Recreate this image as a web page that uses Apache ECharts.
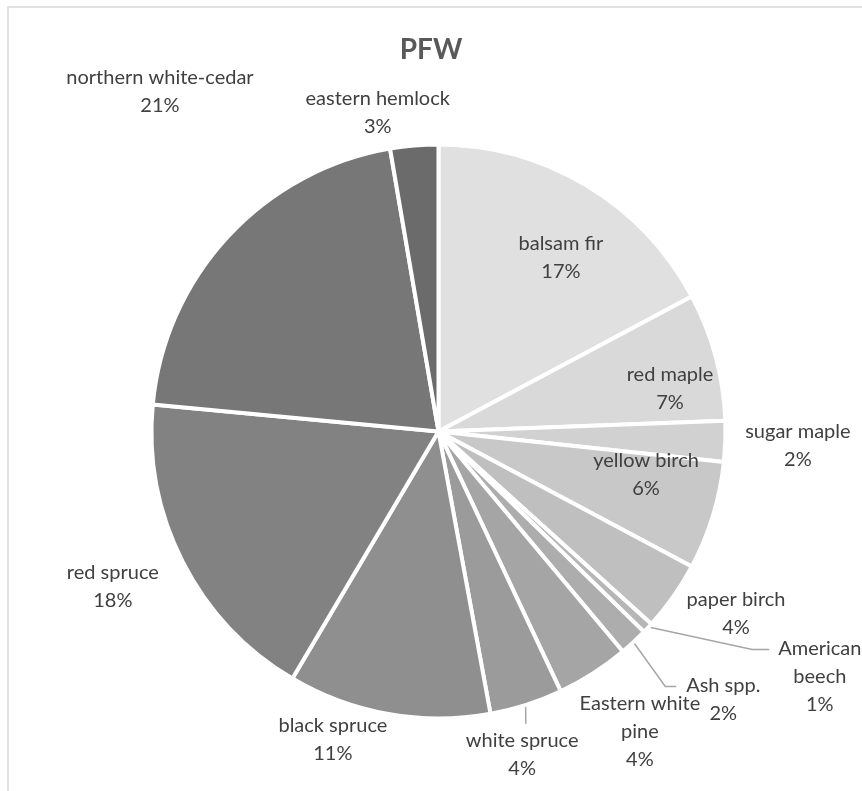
<!DOCTYPE html>
<html>
<head>
<meta charset="utf-8">
<title>PFW</title>
<script src="https://cdn.jsdelivr.net/npm/echarts@6/dist/echarts.min.js"></script>
<style>
  html, body { margin: 0; padding: 0; background: #ffffff; }
  #chart { width: 862px; height: 791px; }
</style>
</head>
<body>
<div id="chart"></div>
<script>
// Species share of PFW volume, clockwise from 12 o'clock
const species = [
  'balsam fir', 'red maple', 'sugar maple', 'yellow birch', 'paper birch',
  'American\nbeech', 'Ash spp.', 'Eastern white\npine', 'white spruce',
  'black spruce', 'red spruce', 'northern white-cedar', 'eastern hemlock'
];
const shares = [17.2, 7.2, 2.3, 6.1, 3.9, 0.6, 1.6, 4.1, 4.1, 11.4, 18.0, 20.8, 2.7];
const greys = [
  '#e0e0e0', '#d9d9d9', '#d1d1d1', '#c8c8c8', '#bfbfbf', '#b6b6b6', '#adadad',
  '#a5a5a5', '#9b9b9b', '#8f8f8f', '#828282', '#777777', '#6b6b6b'
];

// Pie geometry (px)
const CX = 438.5, CY = 431.5, R = 285;

// Label centres as [bearing in degrees clockwise from top, distance in radii]
const labelPolar = [
  [35.2, 0.745], [79.6, 0.826], [92.3, 1.262], [101.8, 0.744], [121.4, 1.223],
  [122.7, 1.59], [133.3, 1.373], [146.1, 1.267], [165.5, 1.172],
  [198.9, 1.144], [244.5, 1.266], [320.7, 1.543], [349.2, 1.138]
];
// Leader lines: elbow offset from the slice edge, then a horizontal run
const leaders = {
  5: { elbow: [106, 23], run: 17 },
  6: { elbow: [33, 46], run: 11 },
  8: { elbow: [0, 21], run: 0 }
};

const total = shares.reduce((a, b) => a + b, 0);
const midBearing = [];
let acc = 0;
shares.forEach(v => {
  midBearing.push((acc + v / 2) / total * 360);
  acc += v;
});

function polar(deg, dist) {
  const a = deg * Math.PI / 180;
  return [CX + dist * Math.sin(a), CY - dist * Math.cos(a)];
}

const chart = echarts.init(document.getElementById('chart'), null, { renderer: 'canvas' });

const option = {
  backgroundColor: '#ffffff',
  animation: false,
  title: {
    text: 'PFW',
    left: 'center',
    top: 31,
    textStyle: {
      fontFamily: 'Lato',
      fontWeight: 'bold',
      fontSize: 28,
      color: '#595959'
    }
  },
  graphic: [{
    type: 'rect',
    shape: { x: 8, y: 7, width: 1000, height: 1000 },
    style: { fill: 'none', stroke: '#d9d9d9', lineWidth: 1.5 },
    silent: true
  }],
  series: [{
    type: 'pie',
    center: [CX, CY],
    radius: R + 2,
    startAngle: 90,
    clockwise: true,
    avoidLabelOverlap: false,
    itemStyle: { borderColor: '#ffffff', borderWidth: 4 },
    label: {
      show: true,
      position: 'outside',
      fontFamily: 'Lato',
      fontSize: 20,
      lineHeight: 28,
      color: '#404040',
      formatter: p => p.name + '\n' + Math.round(p.value / total * 100) + '%'
    },
    labelLine: {
      show: false,
      lineStyle: { color: '#a6a6a6', width: 1.5 }
    },
    labelLayout: params => {
      const i = params.dataIndex;
      const [deg, k] = labelPolar[i];
      const [x, y] = polar(deg, k * R);
      const out = { x: x, y: y, align: 'center', verticalAlign: 'middle' };
      const ld = leaders[i];
      if (ld) {
        const start = polar(midBearing[i], R);
        const elbow = [start[0] + ld.elbow[0], start[1] + ld.elbow[1]];
        const end = [elbow[0] + ld.run, elbow[1]];
        out.labelLinePoints = [start, elbow, end];
      }
      return out;
    },
    data: species.map((name, i) => ({
      name: name,
      value: shares[i],
      itemStyle: { color: greys[i] },
      labelLine: { show: i in leaders }
    }))
  }]
};

chart.setOption(option);
</script>
</body>
</html>
